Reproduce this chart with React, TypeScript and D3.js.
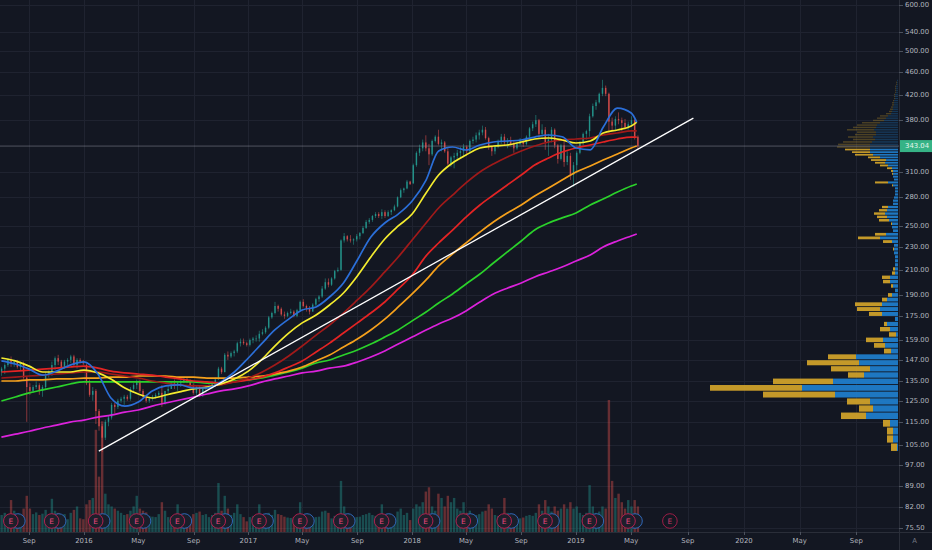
import { useEffect, useRef } from "react"
import * as d3 from "d3"

// Weekly bars, first week starts Monday 2015-06-29: [open, high, low, close]
const firstWeek = new Date(2015, 5, 29)
const weekly: number[][] = [
  // 2015
  [140, 143, 138, 142], [142, 145, 139, 144], [144, 148, 143, 147], [147, 149, 143, 145], [145, 147, 143, 146],
  [146, 147, 142, 143], [143, 146, 141, 145], [145, 146, 136, 137], [137, 138, 115, 132], [132, 134, 128, 130],
  [130, 133, 129, 132], [132, 135, 131, 133], [133, 134, 128, 130], [130, 133, 127, 132], [132, 140, 131, 139],
  [139, 141, 137, 140], [140, 146, 138, 144], [144, 149, 141, 148], [148, 150, 144, 146], [146, 147, 142, 143],
  [143, 147, 142, 146], [146, 148, 144, 147], [147, 150, 145, 149], [149, 150, 143, 144], [144, 148, 142, 147],
  [147, 148, 145, 146], [146, 147, 144, 145],
  // 2016
  [144, 145, 133, 134], [134, 136, 127, 128], [128, 132, 125, 130], [130, 131, 114, 120], [120, 121, 111, 113],
  [113, 114, 102, 108], [108, 116, 107, 115], [115, 118, 113, 117], [117, 124, 116, 123], [123, 124, 119, 122],
  [122, 126, 121, 125], [125, 127, 124, 126], [126, 128, 123, 127], [127, 128, 125, 126], [126, 132, 125, 131],
  [131, 134, 130, 133], [133, 136, 131, 135], [135, 136, 129, 130], [130, 131, 126, 127], [127, 128, 124, 125],
  [125, 127, 124, 126], [126, 128, 125, 127], [127, 129, 126, 128], [128, 130, 127, 129], [129, 133, 122, 124],
  [124, 130, 123, 130], [130, 133, 129, 131], [131, 135, 131, 134], [134, 136, 131, 133], [133, 135, 130, 134],
  [134, 136, 132, 135], [135, 137, 134, 136], [136, 137, 134, 135], [135, 136, 132, 133], [133, 134, 128, 129],
  [129, 133, 128, 132], [132, 133, 127, 128], [128, 132, 127, 131], [131, 133, 129, 132], [132, 134, 131, 133],
  [133, 135, 131, 134], [134, 137, 133, 136], [136, 143, 136, 142], [142, 143, 139, 140], [140, 151, 140, 150],
  [150, 152, 147, 149], [149, 152, 148, 151], [151, 153, 149, 152], [152, 158, 151, 157], [157, 160, 155, 158],
  [158, 160, 156, 157], [157, 158, 155, 156],
  // 2017
  [156, 160, 155, 159], [159, 161, 157, 160], [160, 162, 158, 160], [160, 165, 158, 163], [163, 166, 162, 164],
  [164, 168, 163, 167], [167, 175, 166, 174], [174, 178, 173, 177], [177, 185, 176, 182], [182, 183, 178, 180],
  [180, 181, 175, 176], [176, 178, 173, 175], [175, 178, 174, 177], [177, 180, 176, 178], [178, 179, 174, 175],
  [175, 180, 174, 179], [179, 186, 178, 185], [185, 187, 181, 182], [182, 183, 178, 180], [180, 182, 176, 178],
  [178, 184, 178, 183], [183, 188, 182, 187], [187, 190, 185, 189], [189, 197, 188, 195], [195, 203, 194, 200],
  [200, 203, 196, 198], [198, 204, 197, 203], [203, 210, 202, 209], [209, 212, 208, 210], [210, 237, 209, 236],
  [236, 243, 234, 240], [240, 241, 235, 237], [237, 241, 234, 236], [236, 238, 232, 237], [237, 242, 235, 240],
  [240, 244, 237, 243], [243, 250, 242, 248], [248, 256, 247, 254], [254, 258, 252, 256], [256, 261, 254, 260],
  [260, 264, 258, 262], [262, 264, 258, 260], [260, 267, 257, 264], [264, 266, 258, 260], [260, 266, 259, 264],
  [264, 267, 261, 266], [266, 272, 265, 270], [270, 281, 269, 280], [280, 290, 279, 288], [288, 291, 285, 290],
  [290, 300, 289, 298], [298, 299, 294, 295],
  // 2018
  [296, 320, 295, 318], [318, 336, 316, 334], [334, 345, 330, 340], [340, 352, 336, 348], [348, 358, 336, 340],
  [340, 346, 318, 332], [332, 352, 330, 350], [350, 358, 348, 356], [356, 366, 344, 346], [346, 352, 336, 348],
  [348, 350, 334, 336], [336, 340, 318, 320], [320, 330, 316, 328], [328, 334, 314, 330], [330, 338, 324, 334],
  [334, 342, 328, 336], [336, 346, 328, 342], [342, 344, 332, 336], [336, 352, 334, 350], [350, 356, 346, 352],
  [352, 362, 348, 358], [358, 366, 352, 362], [362, 372, 358, 366], [366, 370, 352, 354], [354, 356, 338, 342],
  [342, 344, 330, 336], [336, 344, 332, 342], [342, 352, 340, 350], [350, 360, 346, 356], [356, 360, 344, 348],
  [348, 354, 340, 350], [350, 356, 344, 346], [346, 350, 334, 340], [340, 348, 338, 346], [346, 354, 344, 350],
  [350, 352, 342, 346], [346, 358, 344, 356], [356, 370, 354, 368], [368, 378, 364, 374], [374, 388, 370, 380],
  [380, 382, 354, 360], [360, 374, 356, 366], [366, 370, 338, 348], [348, 360, 330, 352], [352, 370, 348, 366],
  [366, 368, 340, 344], [344, 346, 320, 326], [326, 346, 324, 344], [344, 350, 316, 322], [322, 336, 318, 330],
  [330, 334, 300, 306], [306, 322, 292, 318],
  // 2019
  [318, 336, 308, 334], [334, 350, 332, 348], [348, 362, 344, 360], [360, 366, 352, 364], [364, 390, 356, 386],
  [386, 406, 384, 402], [402, 412, 396, 408], [408, 424, 406, 422], [422, 446, 418, 432], [432, 436, 418, 422],
  [422, 424, 362, 378], [378, 384, 364, 372], [372, 386, 364, 382], [382, 392, 374, 380], [380, 384, 364, 376],
  [376, 382, 366, 370], [370, 378, 366, 374], [374, 386, 372, 380], [380, 382, 352, 356], [356, 358, 338, 343],
]

// weekly peak daily volume, millions
const weeklyVolume: number[] = [
  4.0, 4.5, 4.2, 7.5, 5.0, 4.0, 3.8, 5.5, 8.5, 5.5, 4.2, 4.6, 4.0, 4.3, 5.2, 4.0, 7.8, 5.0, 4.5, 4.0,
  4.2, 3.0, 4.5, 5.2, 6.0, 3.2, 3.0,
  6.5, 7.5, 8.0, 24, 13, 26, 9.0, 6.5, 6.0, 5.5, 5.0, 4.5, 4.0, 4.2, 5.0, 6.0, 8.5, 5.5, 5.0, 4.6,
  3.8, 3.6, 3.5, 4.2, 7.0, 5.0, 3.5, 3.6, 4.0, 6.5, 4.0, 3.2, 3.0, 3.0, 4.2, 4.5, 4.8, 4.0, 4.2, 3.5,
  4.0, 4.5, 11.5, 5.0, 8.5, 5.5, 4.0, 4.5, 6.5, 4.2, 3.5, 2.5,
  3.5, 3.8, 4.0, 6.5, 4.2, 3.8, 4.5, 4.0, 5.2, 4.2, 4.0, 3.6, 3.4, 3.3, 3.5, 3.8, 7.0, 4.0, 3.2, 3.4,
  3.0, 3.5, 3.6, 4.8, 5.0, 4.5, 3.2, 3.8, 4.0, 12.0, 6.0, 4.0, 3.8, 3.2, 3.5, 3.6, 4.0, 4.2, 4.5, 4.0,
  3.8, 3.8, 6.5, 4.0, 3.6, 3.2, 2.8, 4.8, 5.5, 4.0, 4.5, 2.8,
  5.5, 6.5, 6.0, 7.0, 9.5, 10.5, 6.0, 5.0, 9.0, 8.0, 6.0, 8.5, 7.0, 8.0, 5.5, 5.0, 7.0, 4.5, 5.0, 4.2,
  4.0, 4.2, 4.8, 5.0, 6.5, 5.5, 4.0, 3.8, 4.0, 8.0, 4.5, 3.6, 4.0, 3.0, 3.2, 3.4, 3.8, 4.0, 3.8, 4.5,
  6.5, 5.0, 7.5, 6.0, 4.8, 6.0, 5.0, 5.5, 6.5, 5.5, 7.0, 5.5,
  6.0, 4.5, 4.0, 4.5, 11.0, 6.0, 4.5, 4.8, 6.0, 5.5, 31, 12, 8.0, 9.0, 7.0, 5.5, 7.5, 6.0, 7.5, 6.0,
]

// moving averages, read at the 1st of each month Jul 2015 .. May 2019, then at the last bar
const maBlue = [
  146.4, 144.6, 141.7, 138.4, 140.6, 144.0,
  145.8, 139.0, 126.4, 122.4, 124.4, 130.0, 132.6, 133.1, 131.5, 131.5, 134.7, 140.1,
  148.1, 157.1, 165.5, 172.8, 179.1, 181.3, 188.6, 199.4, 218.4, 239.2, 252.9, 262.0,
  275.9, 299.8, 336.4, 341.8, 337.7, 344.5, 348.6, 350.0, 351.4, 355.5, 358.4, 356.0,
  340.4, 338.0, 369.5, 398.8, 391.1, 377.3,
]
const maYellow = [
  148.1, 146.4, 143.4, 140.1, 140.1, 140.1,
  141.2, 139.6, 136.3, 131.5, 128.4, 126.4, 127.9, 129.5, 131.0, 132.0, 133.6, 136.3,
  140.6, 147.5, 155.3, 163.5, 170.2, 175.6, 182.7, 191.6, 205.0, 221.0, 237.3, 249.9,
  262.0, 284.8, 305.8, 320.8, 331.1, 340.4, 343.1, 344.5, 348.6, 352.8, 354.2, 351.4,
  347.2, 350.0, 361.3, 365.6, 371.4, 377.3,
]
const maDarkRed = [
  136.8, 137.3, 137.9, 138.4, 139.0, 139.6,
  140.1, 140.1, 139.0, 137.9, 136.8, 135.2, 134.1, 133.1, 132.6, 132.6, 133.1, 134.7,
  136.8, 140.1, 144.0, 149.3, 155.3, 162.2, 168.8, 177.0, 186.4, 196.2, 208.3, 221.0,
  236.4, 252.9, 268.4, 282.5, 296.4, 309.5, 319.5, 328.5, 336.4, 343.1, 348.6, 351.4,
  352.8, 354.2, 358.4, 361.3, 364.2, 364.2,
]
const maRed = [
  140.1, 140.6, 141.2, 141.7, 142.3, 142.9,
  143.4, 142.3, 140.6, 139.6, 139.0, 138.4, 137.3, 136.3, 135.2, 134.7, 134.1, 134.7,
  135.8, 137.3, 139.6, 142.9, 146.4, 151.7, 157.1, 163.5, 170.2, 177.0, 184.9, 194.7,
  205.8, 222.0, 233.6, 245.9, 258.9, 271.6, 282.5, 294.0, 305.8, 318.2, 327.2, 335.0,
  340.4, 344.5, 348.6, 352.8, 355.5, 355.5,
]
const maOrange = [
  135.2, 135.2, 135.8, 135.8, 136.3, 136.3,
  136.8, 136.8, 137.3, 137.3, 137.9, 137.9, 137.9, 137.3, 137.3, 136.8, 136.8, 136.8,
  137.3, 137.9, 139.0, 140.6, 142.9, 146.4, 149.9, 154.7, 159.7, 165.5, 172.8, 181.3,
  190.9, 201.8, 213.3, 223.7, 233.6, 244.0, 253.9, 263.1, 271.6, 281.4, 290.5, 299.8,
  309.5, 316.9, 324.6, 332.4, 340.4, 343.1,
]
const maGreen = [
  124.9, 126.9, 129.0, 130.5, 132.0, 133.6,
  134.7, 134.7, 134.7, 134.7, 134.7, 134.7, 134.7, 134.7, 134.7, 134.1, 134.1, 135.2,
  135.8, 136.8, 138.4, 140.1, 142.3, 145.2, 146.9, 149.9, 152.9, 156.5, 160.9, 165.5,
  171.6, 177.7, 184.2, 190.9, 198.6, 206.6, 215.8, 225.5, 235.5, 246.0, 252.9, 258.1,
  263.1, 271.6, 278.1, 285.9, 292.8, 295.2,
]
const maMagenta = [
  108.2, 109.5, 110.8, 112.2, 113.5, 114.9,
  115.8, 117.2, 118.1, 119.5, 120.5, 122.4, 123.9, 125.4, 126.9, 128.4, 130.0, 131.0,
  132.6, 134.7, 136.3, 137.9, 139.6, 140.6, 142.3, 143.4, 145.8, 148.7, 152.3, 156.5,
  160.9, 165.5, 169.5, 173.5, 178.5, 184.9, 190.9, 195.3, 199.4, 204.2, 208.3, 212.4,
  217.6, 222.8, 229.9, 235.5, 240.2, 242.1,
]

const priceTicks = [600, 540, 500, 460, 420, 380, 310, 280, 250, 230, 210, 190, 175, 159, 147, 135, 125, 115, 105, 97, 89, 82, 75.5]
const lastPrice = 343.04

const earnings = [
  "2015-07-22", "2015-10-21", "2016-01-27", "2016-04-27", "2016-07-27", "2016-10-26", "2017-01-25", "2017-04-26",
  "2017-07-26", "2017-10-25", "2018-01-31", "2018-04-25", "2018-07-25", "2018-10-24", "2019-01-30", "2019-04-24",
]
const upcomingEarnings = "2019-07-24"

// hand-drawn trend line
const trendLine: [string, number][] = [["2016-02-03", 102.4], ["2019-09-13", 383.3]]

// volume profile (visible range): rows of equal price height from the low
const profileLow = 102.1
const profileStep = 3.44
const profileUp = [
  1, 5, 5, 8, 32, 25, 28, 63, 96, 65, 34, 28, 39, 42, 7, 13, 15, 2, 8, 11,
  3, 16, 18, 16, 11, 6, 3, 5, 8, 8, 3, 3, 3, 3, 3, 4, 4, 4, 6, 18,
  12, 5, 6, 6, 9, 11, 13, 11, 10, 5, 5, 4, 3, 3, 3, 5, 10, 4, 5, 5,
  5, 6, 10, 13, 12, 18, 25, 28, 28, 28, 28, 26, 23, 25, 22, 22, 24, 22, 21, 18,
  14, 12, 10, 7, 6, 5, 5, 4, 4, 4, 3, 3, 3, 2, 2, 2, 2, 1, 1, 1,
]
const profileDown = [
  6, 6, 6, 7, 25, 14, 23, 72, 92, 60, 16, 39, 52, 28, 7, 11, 17, 7, 10, 3,
  0, 13, 23, 27, 5, 4, 0, 2, 7, 8, 3, 2, 0, 0, 0, 0, 1, 0, 9, 22,
  11, 0, 0, 1, 10, 10, 11, 8, 6, 0, 0, 0, 0, 0, 0, 1, 13, 0, 0, 1,
  2, 5, 8, 10, 15, 12, 18, 18, 25, 33, 32, 29, 22, 25, 21, 19, 27, 23, 20, 18,
  11, 9, 8, 5, 3, 3, 2, 2, 2, 1, 1, 1, 1, 1, 1, 1, 1, 1, 1, 0,
]
const profileValueAreaTop = 69

const maSeries = [
  { values: maMagenta, color: "#dc22dc" },
  { values: maGreen, color: "#2bd22b" },
  { values: maOrange, color: "#f6a11c" },
  { values: maRed, color: "#e32424" },
  { values: maDarkRed, color: "#a01a1a" },
  { values: maYellow, color: "#f4ec2f" },
  { values: maBlue, color: "#2b6fd9" },
]

export default function App() {
  const svgRef = useRef<SVGSVGElement>(null)

  useEffect(() => {
    if (!svgRef.current) return
    document.body.style.margin = "0"
    const svg = d3.select(svgRef.current)
    svg.selectAll("*").remove()

    const width = 932
    const height = 550
    const plotW = 899
    const plotH = 532
    const font = "'DejaVu Sans', sans-serif"
    const parse = d3.timeParse("%Y-%m-%d")

    const x = d3
      .scaleTime()
      .domain([new Date(2016, 0, 1), new Date(2019, 0, 1), new Date(2020, 0, 1)])
      .range([84, 576, 744])
    const y = d3.scaleLog().domain([75.5, 600]).range([528, 5])
    const vy = d3.scaleLinear().domain([0, 31]).range([plotH, 400])
    const pw = d3.scaleLinear().domain([0, 188]).range([0, 188])

    svg.append("rect").attr("width", width).attr("height", height).attr("fill", "#131722")

    svg.append("defs").append("clipPath").attr("id", "plot")
      .append("rect").attr("width", plotW).attr("height", plotH)

    // grid
    const timeTicks = d3.timeMonth.every(4)!.range(x.invert(0), x.invert(plotW))
    const grid = svg.append("g").attr("stroke", "#1f2330").attr("stroke-width", 1)
    grid.selectAll(".gx").data(timeTicks).join("line")
      .attr("x1", (d) => Math.round(x(d)) + 0.5).attr("x2", (d) => Math.round(x(d)) + 0.5)
      .attr("y1", 0).attr("y2", plotH)
    grid.selectAll(".gy").data(priceTicks).join("line")
      .attr("x1", 0).attr("x2", plotW)
      .attr("y1", (d) => Math.round(y(d)) + 0.5).attr("y2", (d) => Math.round(y(d)) + 0.5)

    const plot = svg.append("g").attr("clip-path", "url(#plot)")

    const bars = weekly.map((b, i) => ({
      date: d3.timeHour.offset(d3.timeDay.offset(firstWeek, i * 7), 60),
      o: b[0], h: b[1], l: b[2], c: b[3],
      v: weeklyVolume[i],
      up: b[3] >= b[0],
    }))

    // volume
    plot.append("g").selectAll("rect").data(bars).join("rect")
      .attr("x", (d) => x(d.date) - 1.2)
      .attr("width", 2.4)
      .attr("y", (d) => vy(d.v))
      .attr("height", (d) => plotH - vy(d.v))
      .attr("fill", (d) => (d.up ? "#26a69a" : "#ef5350"))
      .attr("opacity", 0.38)

    // volume profile
    const rows = profileUp.map((u, i) => {
      const lo = profileLow + i * profileStep
      return { lo, hi: lo + profileStep, up: u, down: profileDown[i], dim: i >= profileValueAreaTop }
    })
    const vp = plot.append("g")
    vp.selectAll(".vpu").data(rows).join("rect")
      .attr("x", (d) => plotW - 1 - pw(d.up))
      .attr("width", (d) => pw(d.up))
      .attr("y", (d) => y(d.hi))
      .attr("height", (d) => Math.max(0.6, y(d.lo) - y(d.hi) - 0.9))
      .attr("fill", "#1f80cf")
      .attr("opacity", (d) => (d.dim ? 0.3 : 0.92))
    vp.selectAll(".vpd").data(rows).join("rect")
      .attr("x", (d) => plotW - 1 - pw(d.up) - pw(d.down))
      .attr("width", (d) => pw(d.down))
      .attr("y", (d) => y(d.hi))
      .attr("height", (d) => Math.max(0.6, y(d.lo) - y(d.hi) - 0.9))
      .attr("fill", "#d4a52a")
      .attr("opacity", (d) => (d.dim ? 0.3 : 0.92))

    // candles
    const cg = plot.append("g")
    cg.selectAll("line").data(bars).join("line")
      .attr("x1", (d) => x(d.date)).attr("x2", (d) => x(d.date))
      .attr("y1", (d) => y(d.h)).attr("y2", (d) => y(d.l))
      .attr("stroke", (d) => (d.up ? "#26a69a" : "#ef5350"))
      .attr("stroke-width", 0.7)
      .attr("opacity", 0.75)
    cg.selectAll("rect").data(bars).join("rect")
      .attr("x", (d) => x(d.date) - 0.75)
      .attr("width", 1.5)
      .attr("y", (d) => y(Math.max(d.o, d.c)))
      .attr("height", (d) => Math.max(0.8, Math.abs(y(d.o) - y(d.c))))
      .attr("fill", (d) => (d.up ? "#26a69a" : "#ef5350"))
      .attr("opacity", 0.75)

    // last price line
    plot.append("line")
      .attr("x1", 0).attr("x2", plotW)
      .attr("y1", y(lastPrice)).attr("y2", y(lastPrice))
      .attr("stroke", "#8d929c").attr("stroke-opacity", 0.5).attr("stroke-width", 1)

    // moving averages
    const maDates = d3.timeMonth.range(new Date(2015, 6, 1), new Date(2019, 4, 2)).concat([new Date(2019, 4, 13)])
    const line = d3.line<number>()
      .x((_, i) => x(maDates[i]))
      .y((d) => y(d))
      .curve(d3.curveMonotoneX)
    plot.append("g").selectAll("path").data(maSeries).join("path")
      .attr("d", (d) => line(d.values))
      .attr("fill", "none")
      .attr("stroke", (d) => d.color)
      .attr("stroke-width", 1.7)

    // trend line
    plot.append("line")
      .attr("x1", x(parse(trendLine[0][0])!)).attr("y1", y(trendLine[0][1]))
      .attr("x2", x(parse(trendLine[1][0])!)).attr("y2", y(trendLine[1][1]))
      .attr("stroke", "#ffffff").attr("stroke-width", 1.3)

    // earnings markers
    const em = plot.append("g")
    const ey = 521
    earnings.forEach((e) => {
      const ex = x(parse(e)!)
      em.append("circle").attr("cx", ex + 7).attr("cy", ey).attr("r", 7.3)
        .attr("fill", "#1a1e2a").attr("stroke", "#2f68b8").attr("stroke-width", 1)
      em.append("circle").attr("cx", ex).attr("cy", ey).attr("r", 7.3)
        .attr("fill", "#1e1f2b").attr("stroke", "#b0204f").attr("stroke-width", 1)
      em.append("text").attr("x", ex).attr("y", ey + 0.5)
        .attr("text-anchor", "middle").attr("dominant-baseline", "central")
        .attr("font-family", font).attr("font-size", 7.5).attr("fill", "#e8477d")
        .text("E")
    })
    const ux = x(parse(upcomingEarnings)!)
    em.append("circle").attr("cx", ux).attr("cy", ey).attr("r", 7.3)
      .attr("fill", "#131722").attr("stroke", "#9c1d46").attr("stroke-width", 1)
    em.append("text").attr("x", ux).attr("y", ey + 0.5)
      .attr("text-anchor", "middle").attr("dominant-baseline", "central")
      .attr("font-family", font).attr("font-size", 7.5).attr("fill", "#c23a68")
      .text("E")

    // axes borders
    svg.append("line").attr("x1", plotW + 0.5).attr("x2", plotW + 0.5).attr("y1", 0).attr("y2", height)
      .attr("stroke", "#2a2e39")
    svg.append("line").attr("x1", 0).attr("x2", width).attr("y1", plotH + 0.5).attr("y2", plotH + 0.5)
      .attr("stroke", "#2a2e39")

    // price axis
    const pa = svg.append("g")
    pa.selectAll("line").data(priceTicks).join("line")
      .attr("x1", plotW).attr("x2", plotW + 4)
      .attr("y1", (d) => Math.round(y(d)) + 0.5).attr("y2", (d) => Math.round(y(d)) + 0.5)
      .attr("stroke", "#4c525e")
    pa.selectAll("text").data(priceTicks).join("text")
      .attr("x", plotW + 6).attr("y", (d) => y(d))
      .attr("dominant-baseline", "central")
      .attr("font-family", font).attr("font-size", 6.9).attr("fill", "#b2b5be")
      .text((d) => d3.format(".2f")(d))

    pa.append("rect")
      .attr("x", plotW + 1).attr("y", y(lastPrice) - 6).attr("width", width - plotW - 1).attr("height", 12)
      .attr("fill", "#36b386")
    pa.append("text")
      .attr("x", plotW + 6).attr("y", y(lastPrice))
      .attr("dominant-baseline", "central")
      .attr("font-family", font).attr("font-size", 6.9).attr("fill", "#e4f6ec")
      .text(d3.format(".2f")(lastPrice))

    // time axis
    const ta = svg.append("g")
    ta.selectAll("line").data(timeTicks).join("line")
      .attr("x1", (d) => Math.round(x(d)) + 0.5).attr("x2", (d) => Math.round(x(d)) + 0.5)
      .attr("y1", plotH).attr("y2", plotH + 3)
      .attr("stroke", "#4c525e")
    ta.selectAll("text").data(timeTicks).join("text")
      .attr("x", (d) => x(d)).attr("y", 541)
      .attr("text-anchor", "middle").attr("dominant-baseline", "central")
      .attr("font-family", font).attr("font-size", 6.9).attr("fill", "#b2b5be")
      .text((d) => (d.getMonth() === 0 ? d3.timeFormat("%Y")(d) : d3.timeFormat("%b")(d)))

    svg.append("text")
      .attr("x", 914.5).attr("y", 541)
      .attr("text-anchor", "middle").attr("dominant-baseline", "central")
      .attr("font-family", font).attr("font-size", 6.9).attr("fill", "#6f7480")
      .text("A")
  }, [])

  return <svg ref={svgRef} width={932} height={550} style={{ display: "block" }} />
}
